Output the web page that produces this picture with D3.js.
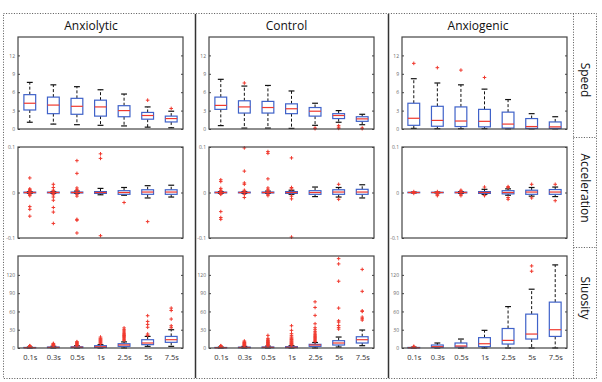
<!DOCTYPE html>
<html><head><meta charset="utf-8">
<script src="https://cdn.jsdelivr.net/npm/d3@7"></script>
<style>body{margin:0;background:#fff}svg{display:block}</style>
</head><body><svg id="c" width="602" height="382"></svg>
<script>
const categories = ["0.1s","0.3s","0.5s","1s","2.5s","5s","7.5s"];
const groups = ["Anxiolytic","Control","Anxiogenic"];
const measures = ["Speed","Acceleration","Siuosity"];
const speedTicks = [0,3,6,9,12];
const accelTicks = [-0.1,0,0.1];
const sinuTicks = [0,30,60,90,120];
const speedDomain = [0,15];
const accelDomain = [-0.1,0.1];
const sinuDomain = [0,151];

// each box: [lower whisker, Q1, median, Q3, upper whisker]
const speedAnxiolytic = [[1.1,3.1,4.2,5.6,7.6],[0.8,2.5,3.9,5.2,7.2],[0.7,2.4,3.7,5.0,6.9],[0.6,2.1,3.6,4.7,6.4],[0.5,2.0,3.0,3.8,5.7],[0.3,1.6,2.2,2.7,3.6],[0.2,1.15,1.7,2.1,2.9]];
const speedAnxiolyticOut = [[],[],[],[],[],[4.7],[3.35]];
const speedControl = [[0.55,3.2,3.85,5.2,8.1],[0.15,2.6,3.6,4.6,7.0],[0.15,2.6,3.5,4.5,7.1],[0.1,2.5,3.3,4.1,6.2],[0.6,2.1,2.9,3.5,4.2],[1.1,1.7,2.2,2.5,3.0],[0.7,1.25,1.65,2.0,2.4]];
const speedControlOut = [[],[7.5],[],[],[0.15,0.05],[0.55,0.3,0.1],[0.15,0.05]];
const speedAnxiogenic = [[0.1,0.6,1.75,4.2,8.2],[0.05,0.45,1.4,3.7,7.5],[0.05,0.4,1.3,3.6,7.2],[0.05,0.35,1.25,3.2,6.5],[0.02,0.15,0.8,2.75,4.8],[0.02,0.1,0.4,1.7,2.5],[0.02,0.1,0.35,1.15,2.0]];
const speedAnxiogenicOut = [[10.7],[10.0],[9.6],[8.4],[],[],[]];

const accelAnxiolytic = [[-0.002,-0.0008,0,0.0008,0.002],[-0.002,-0.0008,0,0.0008,0.002],[-0.002,-0.001,0,0.001,0.003],[-0.005,-0.002,0,0.002,0.009],[-0.006,-0.004,0,0.004,0.011],[-0.012,-0.004,0.001,0.006,0.015],[-0.010,-0.004,0.001,0.006,0.016]];
const accelAnxiolyticOut = [[0.032,0.008,0.006,0.004,0.003,-0.003,-0.005,-0.007,-0.031,-0.037,-0.052],[0.018,0.011,0.005,0.003,-0.003,-0.005,-0.01,-0.017,-0.033,-0.043,-0.068],[0.070,0.042,0.01,0.006,0.004,-0.004,-0.008,-0.059,-0.061,-0.089],[0.085,0.075,-0.095],[-0.022],[-0.064],[]];
const accelControl = [[-0.002,-0.0008,0,0.0008,0.002],[-0.002,-0.0008,0,0.0008,0.002],[-0.002,-0.001,0,0.001,0.003],[-0.004,-0.002,0,0.002,0.005],[-0.009,-0.004,0,0.004,0.012],[-0.01,-0.004,0.001,0.006,0.011],[-0.012,-0.004,0.001,0.007,0.017]];
const accelControlOut = [[0.028,0.024,0.009,0.005,0.003,-0.003,-0.004,-0.042,-0.055,-0.059],[0.098,0.047,0.021,0.018,0.005,0.003,-0.004,-0.011],[0.09,0.086,0.03,0.01,0.006,0.003,-0.004,-0.007],[0.076,0.011,0.008,-0.008,-0.014,-0.098],[],[0.018,-0.015],[]];
const accelAnxiogenic = [[-0.001,-0.0005,0,0.0005,0.001],[-0.001,-0.0005,0,0.0005,0.001],[-0.002,-0.0008,0,0.0008,0.002],[-0.004,-0.002,0,0.002,0.007],[-0.006,-0.003,0,0.004,0.008],[-0.008,-0.004,0.001,0.005,0.011],[-0.009,-0.004,0.001,0.0065,0.012]];
const accelAnxiogenicOut = [[0.002,-0.002],[0.002,-0.003,-0.005,-0.007],[0.005,0.003,-0.004,-0.007],[0.012,-0.007],[0.013,0.011,-0.011,-0.015],[0.018,-0.012],[0.018,-0.018]];

const sinuAnxiolytic = [[0,0.3,0.6,0.9,1.6],[0,0.5,1.0,1.6,2.8],[0,0.6,1.3,2.0,3.6],[0,1.0,2.0,3.8,5.5],[0,2.7,5,7,10],[2.7,5.5,8.2,13.6,19],[2.7,9.3,13.6,19,30]];
const sinuAnxiolyticOut = [[2.2,2.8,3.4,3.8],[3.5,4.2,5,5.8,6.6,7.6],[4.3,5.2,6.2,7.2,8.4,9.4,10.4],[7,8.2,9.3,10.4,11.5,12.6,13.6,14.8,16,18],[12.5,14.2,16,17.5,19,20.5,22,24,26,28,30,33],[20.7,23,34,38.7,43.6,53],[33.3,36.5,47.5,61.6,65.5]];
const sinuControl = [[0,0.3,0.6,0.9,1.6],[0,0.4,0.9,1.4,2.6],[0,0.5,1.1,1.7,3],[0,0.6,1.2,2.2,3.8],[0,2.7,4.9,6,9],[1.6,4.9,8.2,12,18],[3.8,8.2,13.6,18.5,29.5]];
const sinuControlOut = [[2.2,2.8,3.4,3.8],[3.2,4,4.8,5.6,6.4,7.2,8,9,10,11.5],[3.8,4.6,5.4,6.2,7,8,9,10,11,12.2,13.6,15.8,20.7],[4.6,5.5,6.4,7.4,8.4,9.4,10.4,11.6,12.8,14,15.2,16.6,18.2,20.7,23.5,29,36.5],[10.5,12,13.6,15.3,17,18.6,20.2,22.4,24.5,26.7,30,33.3,39.8,53.5,66.5,75.8],[31,33.8,37,42.5,44.7,65.5,109.6,138,146.7],[45.8,48,50.7,60,61,93,129]];
const sinuAnxiogenic = [[0,0.2,0.5,0.9,1.4],[0,1.1,2.2,4.9,8.2],[0,1.6,3.3,8.2,14.7],[0,2.2,7,17,29],[0,6.5,12.5,32,68],[0,14.7,22.9,55.6,96.5],[0,19,30,75.3,136.4]];
const sinuAnxiogenicOut = [[1.8,2.2,2.7],[],[],[],[],[126,134.7],[]];

const rowDefs = [
  {domain: speedDomain, ticks: speedTicks, data: [speedAnxiolytic, speedControl, speedAnxiogenic], out: [speedAnxiolyticOut, speedControlOut, speedAnxiogenicOut]},
  {domain: accelDomain, ticks: accelTicks, data: [accelAnxiolytic, accelControl, accelAnxiogenic], out: [accelAnxiolyticOut, accelControlOut, accelAnxiogenicOut]},
  {domain: sinuDomain, ticks: sinuTicks, data: [sinuAnxiolytic, sinuControl, sinuAnxiogenic], out: [sinuAnxiolyticOut, sinuControlOut, sinuAnxiogenicOut]}
];

const svg = d3.select("#c");
const colX = [[18,183],[209,374],[402,567]];
const rowY = [[37,129],[147,238],[256,348]];
const titleX = [91,286.5,478];
const labelY = [80,188,298];
const BLUE = "#3f62c9", RED = "#f0392e", FONT = "'Open Sans', sans-serif";

// frame lines
const dot = "1,1.6";
svg.append("rect").attr("x",3.5).attr("y",13.5).attr("width",593).attr("height",365)
  .attr("fill","none").attr("stroke","#555").attr("stroke-dasharray",dot);
svg.append("line").attr("x1",573.5).attr("x2",573.5).attr("y1",13.5).attr("y2",378.5)
  .attr("stroke","#555").attr("stroke-dasharray",dot);
[137.5,247.5].forEach(yy=>svg.append("line").attr("x1",573.5).attr("x2",596.5).attr("y1",yy).attr("y2",yy)
  .attr("stroke","#555").attr("stroke-dasharray",dot));
[195.5,388.5].forEach(xx=>svg.append("line").attr("x1",xx).attr("x2",xx).attr("y1",14).attr("y2",378)
  .attr("stroke","#333").attr("stroke-width",1.5));

groups.forEach((g,i)=>svg.append("text").attr("x",titleX[i]).attr("y",30).attr("text-anchor","middle")
  .attr("font-family",FONT).attr("font-size",12).attr("fill","#111").text(g));
measures.forEach((m,i)=>svg.append("text").attr("transform",`translate(581,${labelY[i]}) rotate(90)`)
  .attr("text-anchor","middle").attr("font-family",FONT).attr("font-size",12).attr("fill","#111").text(m));

rowDefs.forEach((row,r)=>{
  groups.forEach((g,c)=>{
    const [x0,x1] = colX[c], [y0,y1] = rowY[r];
    const x = d3.scalePoint().domain(categories).range([x0,x1]).padding(0.5);
    const y = d3.scaleLinear().domain(row.domain).range([y1,y0]);
    const bw = x.step()*0.5;
    const p = svg.append("g");
    // axes
    const ax = p.append("g").attr("transform",`translate(${x0},0)`)
      .call(d3.axisLeft(y).tickValues(row.ticks).tickSizeInner(-2).tickSizeOuter(0).tickPadding(3).tickFormat(d=>String(d)));
    ax.select(".domain").remove();
    ax.selectAll("text").attr("font-size",5).attr("fill","#666").attr("font-family",FONT);
    ax.selectAll("line").attr("stroke","#444");
    const axr = p.append("g").attr("transform",`translate(${x1},0)`)
      .call(d3.axisRight(y).tickValues(row.ticks).tickSizeInner(-2).tickSizeOuter(0).tickFormat(""));
    axr.select(".domain").remove();
    axr.selectAll("line").attr("stroke","#444");
    if (r===2){
      const xa = p.append("g").attr("transform",`translate(0,${y1})`)
        .call(d3.axisBottom(x).tickSize(0).tickPadding(6.5));
      xa.select(".domain").remove();
      xa.selectAll("text").attr("font-size",7.5).attr("fill","#333").attr("font-family",FONT);
    }
    const stats = row.data[c], outs = row.out[c];
    const bx = p.selectAll(".bx").data(categories).enter().append("g");
    // whiskers
    bx.append("line").attr("x1",d=>x(d)).attr("x2",d=>x(d))
      .attr("y1",(d,k)=>y(stats[k][3])).attr("y2",(d,k)=>y(stats[k][4]))
      .attr("stroke","#111").attr("stroke-dasharray","3,2").attr("stroke-width",1);
    bx.append("line").attr("x1",d=>x(d)).attr("x2",d=>x(d))
      .attr("y1",(d,k)=>y(stats[k][1])).attr("y2",(d,k)=>y(stats[k][0]))
      .attr("stroke","#111").attr("stroke-dasharray","3,2").attr("stroke-width",1);
    [0,4].forEach(j=>bx.append("line").attr("x1",d=>x(d)-bw/4).attr("x2",d=>x(d)+bw/4)
      .attr("y1",(d,k)=>y(stats[k][j])).attr("y2",(d,k)=>y(stats[k][j]))
      .attr("stroke","#111").attr("stroke-width",1.2));
    bx.append("rect").attr("x",d=>x(d)-bw/2).attr("width",bw)
      .attr("y",(d,k)=>y(stats[k][3])).attr("height",(d,k)=>Math.max(0.3,y(stats[k][1])-y(stats[k][3])))
      .attr("fill","#fff").attr("stroke",BLUE).attr("stroke-width",1.2);
    bx.append("line").attr("x1",d=>x(d)-bw/2).attr("x2",d=>x(d)+bw/2)
      .attr("y1",(d,k)=>y(stats[k][2])).attr("y2",(d,k)=>y(stats[k][2]))
      .attr("stroke",RED).attr("stroke-width",1.2);
    const pts = [];
    categories.forEach((cat,k)=>outs[k].forEach(v=>pts.push([cat,v])));
    p.selectAll(".o").data(pts).enter().append("path")
      .attr("transform",d=>`translate(${x(d[0])},${y(d[1])})`)
      .attr("d","M-1.8,0H1.8M0,-1.8V1.8").attr("stroke",RED).attr("stroke-width",1);
    // frame
    p.append("rect").attr("x",x0).attr("y",y0).attr("width",x1-x0).attr("height",y1-y0)
      .attr("fill","none").attr("stroke","#444").attr("stroke-width",1.2);
  });
});
</script></body></html>
